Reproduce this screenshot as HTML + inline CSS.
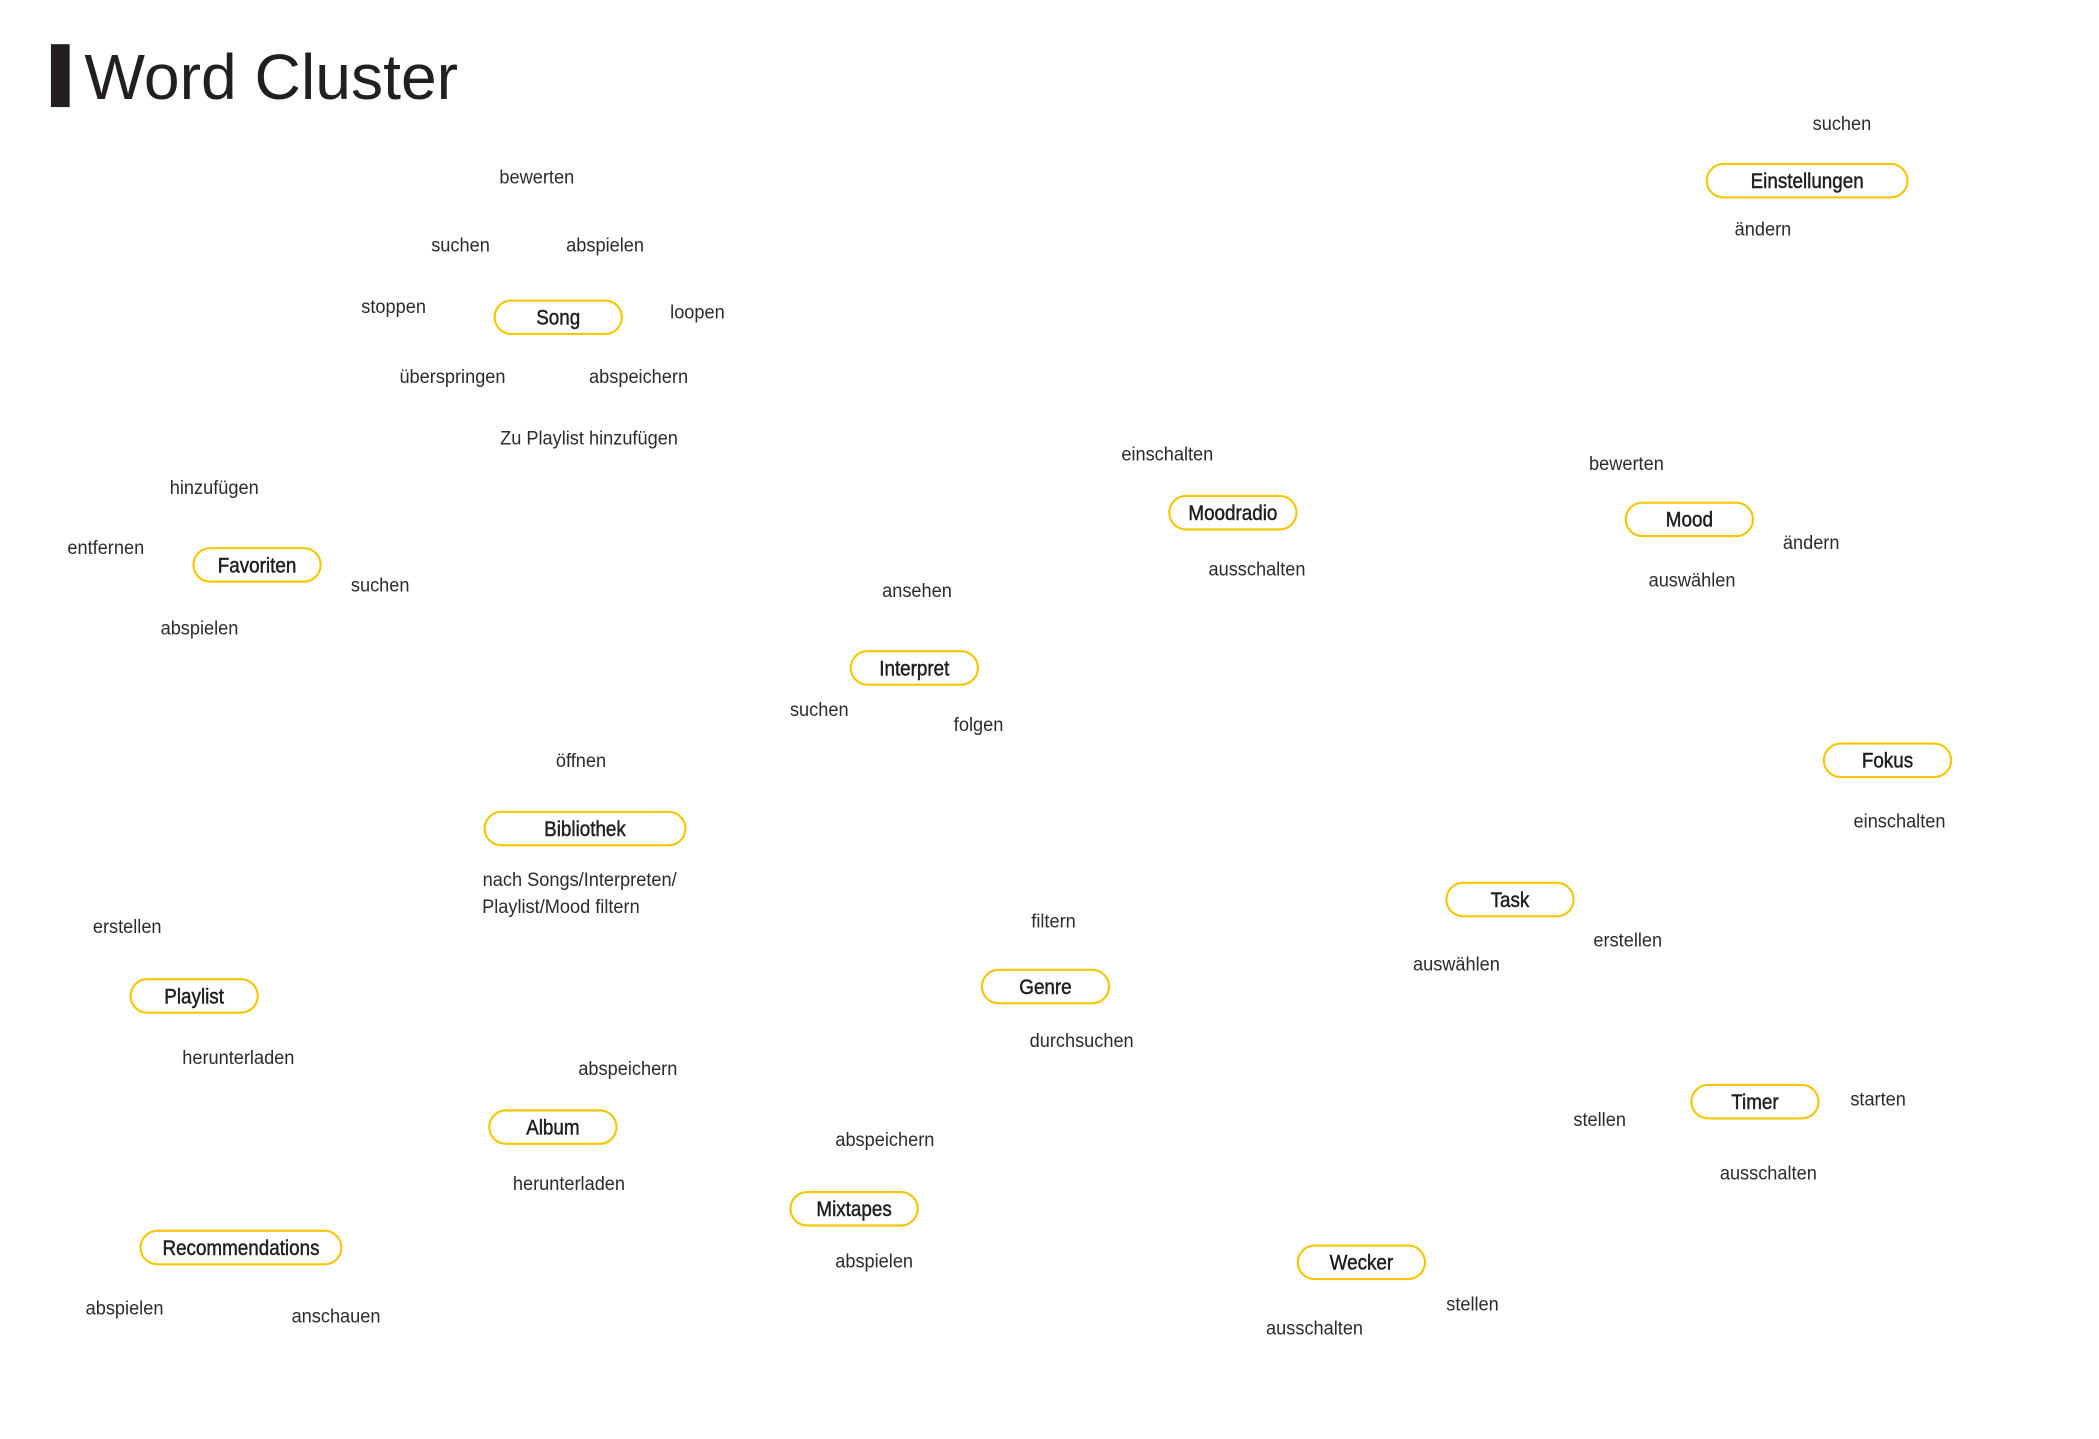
<!DOCTYPE html>
<html><head><meta charset="utf-8"><style>
html,body{margin:0;padding:0;background:#fff;}
svg{display:block;}
text{font-family:"Liberation Sans",sans-serif;fill:#2b2b2b;}
.w{font-size:14.3px;}
.p{font-size:16px;fill:#1e1e1e;stroke:#1e1e1e;stroke-width:0.35px;}
</style></head><body>
<svg id="chart" width="2099" height="1439" viewBox="0 0 1568 1075">
<rect x="38" y="33" width="14" height="47" fill="#231f20"/>
<text x="63" y="74" style="font-family:'Liberation Sans',sans-serif;font-size:48px;fill:#231f20">Word Cluster</text>
<g id="marks"></g>
</svg>
<script>
const pillLabels=["Einstellungen","Song","Moodradio","Mood","Favoriten","Interpret","Fokus","Bibliothek","Task","Playlist","Genre","Album","Mixtapes","Timer","Recommendations","Wecker"];
const pillX=[1350,417,921,1262,192,683,1410,437,1128,145,781,413,638,1311,180,1017];
const pillY=[135,237,383,388,422,499,568,619,672,744,737,842,903,823,932,943];
const pillW=[150,95,95,95,95,95,95,150,95,95,95,95,95,95,150,95];
const wordLabels=["suchen","ändern","bewerten","suchen","abspielen","stoppen","loopen","überspringen","abspeichern","Zu Playlist hinzufügen","einschalten","ausschalten","bewerten","ändern","auswählen","hinzufügen","entfernen","suchen","abspielen","ansehen","suchen","folgen","einschalten","öffnen","nach Songs/Interpreten/","Playlist/Mood filtern","filtern","erstellen","auswählen","erstellen","herunterladen","durchsuchen","abspeichern","herunterladen","abspeichern","abspielen","stellen","starten","ausschalten","abspielen","anschauen","stellen","ausschalten"];
const wordX=[1376,1317,401,344,452,294,521,338,477,440,872,939,1215,1353,1264,160,79,284,149,685,612,731,1419,434,433,419,787,1216,1088,95,178,808,469,425,661,653,1195,1403,1321,93,251,1100,982];
const wordY=[92,171,132,183,183,229,233,281,281,327,339,425,346,405,433,364,409,437,469,441,530,541,613,568,657,677,688,702,720,692,790,777,798,884,851,942,836,821,876,977,983,974,992];
const NS="http://www.w3.org/2000/svg";
const g=document.getElementById('marks');
pillLabels.forEach((lab,i)=>{
  const r=document.createElementNS(NS,'rect');
  const w=pillW[i],h=25;
  r.setAttribute('x',pillX[i]-w/2);r.setAttribute('y',pillY[i]-h/2);
  r.setAttribute('width',w);r.setAttribute('height',h);
  r.setAttribute('rx',h/2);r.setAttribute('fill','#fff');
  r.setAttribute('stroke','#f7c600');r.setAttribute('stroke-width','1.6');
  
  
  g.appendChild(r);
  const t=document.createElementNS(NS,'text');
  t.setAttribute('transform','translate('+pillX[i]+','+(pillY[i]+5.5)+') scale(0.88,1)');
  t.setAttribute('text-anchor','middle');t.setAttribute('class','p');
  t.textContent=lab;
  
  
  g.appendChild(t);
});
wordLabels.forEach((lab,i)=>{
  const t=document.createElementNS(NS,'text');
  t.setAttribute('transform','translate('+wordX[i]+','+(wordY[i]+5)+') scale(0.95,1)');
  t.setAttribute('text-anchor','middle');t.setAttribute('class','w');
  t.textContent=lab;
  
  
  g.appendChild(t);
});
</script>
</body></html>
